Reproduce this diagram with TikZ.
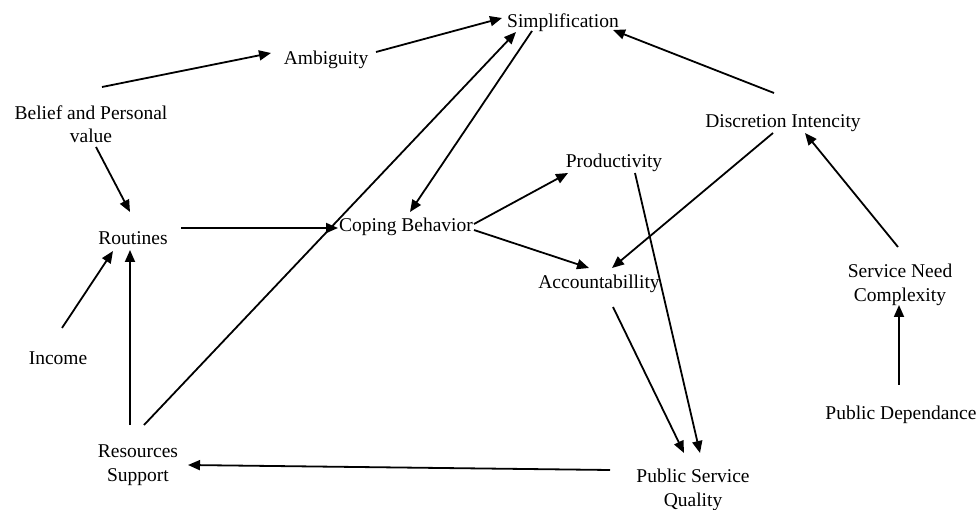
\documentclass[tikz,border=0pt]{standalone}
\usepackage{fontspec}
\setmainfont{Liberation Serif}
\usetikzlibrary{arrows.meta}
\tikzset{
  lbl/.style={inner sep=0pt, align=center, text=black, font=\fontsize{19.5}{23.5}\selectfont},
  arr/.style={line width=1.8pt, draw=black, -{Triangle[length=12pt,width=10pt]}}
}
\newcommand\conn[4]{\draw[arr] ([shift={#2}]#1.center) -- ([shift={#4}]#3.center);}
\begin{document}
\begin{tikzpicture}[x=1pt,y=-1pt]
\useasboundingbox (0,0) rectangle (977,510);
\node[lbl] (sim) at (563,23) {Simplification};
\node[lbl] (amb) at (326,60) {Ambiguity};
\node[lbl] (bel) at (91,124) {Belief and Personal\\value};
\node[lbl] (dis) at (783,123) {Discretion Intencity};
\node[lbl] (pro) at (614,163) {Productivity};
\node[lbl] (rou) at (133,238) {Routines};
\node[lbl] (cop) at (406,227) {Coping Behavior};
\node[lbl] (acc) at (599,284) {Accountabillity};
\node[lbl] (snc) at (900,285) {Service Need\\Complexity};
\node[lbl] (inc) at (58,358) {Income};
\node[lbl] (pde) at (901,415) {Public Dependance};
\node[lbl] (res) at (138,465) {Resources\\Support};
\node[lbl] (psq) at (693,490) {Public Service\\Quality};
\conn{bel}{(11,-37)}{amb}{(-55,-7)}
\conn{amb}{(50,-8)}{sim}{(-61,-5)}
\conn{bel}{(5,23)}{rou}{(-3,-26)}
\conn{rou}{(48,-10)}{cop}{(-68,1)}
\conn{sim}{(-31,8)}{cop}{(4,-15)}
\conn{res}{(6,-40)}{sim}{(-47,9)}
\conn{inc}{(4,-30)}{rou}{(-20,13)}
\conn{res}{(-8,-40)}{rou}{(-3,12)}
\conn{cop}{(68,-3)}{pro}{(-46,10)}
\conn{cop}{(68,3)}{acc}{(-10,-16)}
\conn{dis}{(-9,-30)}{sim}{(50,7)}
\conn{dis}{(-10,10)}{acc}{(13,-16)}
\conn{pro}{(21,10)}{psq}{(7,-37)}
\conn{acc}{(14,23)}{psq}{(-9,-37)}
\conn{snc}{(-2,-38)}{dis}{(22,10)}
\conn{pde}{(-2,-30)}{snc}{(-1,20)}
\conn{psq}{(-83,-20)}{res}{(50,0)}
\end{tikzpicture}
\end{document}
